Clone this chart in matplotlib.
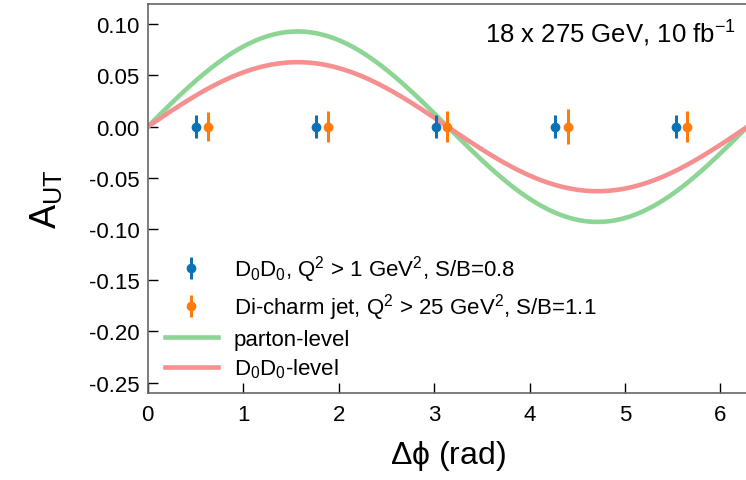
import numpy as np
import matplotlib
matplotlib.use("Agg")
import matplotlib.pyplot as plt

plt.rcParams['font.family'] = ['Liberation Sans', 'DejaVu Sans']
plt.rcParams['mathtext.default'] = 'regular'

# data
dd_x = [0.51, 1.76, 3.02, 4.27, 5.53]
dd_y = [0.0, 0.0, 0.0, 0.0, 0.0]
dd_err = [0.0114, 0.0114, 0.0112, 0.0114, 0.0114]

jet_x = [0.63, 1.89, 3.14, 4.40, 5.65]
jet_y = [0.0, 0.0, 0.0, 0.0, 0.0]
jet_err = [0.0139, 0.0152, 0.0152, 0.0172, 0.0152]

# sin(dphi) modulation amplitudes
amp_parton = 0.093
amp_dd = 0.063

phi = np.linspace(0, 2 * np.pi, 400)

fig = plt.figure(figsize=(7.46, 4.81), dpi=100)
ax = fig.add_axes([0.198, 0.181, 0.804, 0.809])

ax.plot(phi, amp_parton * np.sin(phi), color='#8dd594', lw=3.3, label='parton-level', zorder=2)
ax.plot(phi, amp_dd * np.sin(phi), color='#f58f90', lw=3.3, label=r'D$_0$D$_0$-level', zorder=2)

ax.errorbar(dd_x, dd_y, yerr=dd_err, fmt='o', color='#0b72b5', ms=6, elinewidth=2.2,
            capsize=0, zorder=3, label=r'D$_0$D$_0$, Q$^2$ > 1 GeV$^2$, S/B=0.8')
ax.errorbar(jet_x, jet_y, yerr=jet_err, fmt='o', color='#ff7b0c', ms=6, elinewidth=2.2,
            capsize=0, zorder=3, label=r'Di-charm jet, Q$^2$ > 25 GeV$^2$, S/B=1.1')

ax.set_xlim(0, 2 * np.pi)
ax.set_ylim(-0.26, 0.12)
ax.set_xticks([0, 1, 2, 3, 4, 5, 6])
ax.set_yticks([0.10, 0.05, 0.0, -0.05, -0.10, -0.15, -0.20, -0.25])
ax.set_yticklabels(['0.10', '0.05', '0.00', '-0.05', '-0.10', '-0.15', '-0.20', '-0.25'])
ax.tick_params(direction='in', length=7, width=1, labelsize=16, pad=6)
ax.tick_params(axis='x', pad=8)
for s in ax.spines.values():
    s.set_color('#666666')
    s.set_linewidth(1.2)

ax.set_xlabel(r'$\Delta\phi$ (rad)', fontsize=23, labelpad=9)
ax.set_ylabel(r'A$_{UT}$', fontsize=26, labelpad=18)

ax.text(0.98, 0.965, r'18 x 275 GeV, 10 fb$^{-1}$', transform=ax.transAxes,
        ha='right', va='top', fontsize=18.5)

h, l = ax.get_legend_handles_labels()
order = [2, 3, 0, 1]
ax.legend([h[i] for i in order], [l[i] for i in order], loc='lower left',
          bbox_to_anchor=(-0.005, -0.018), frameon=False, fontsize=16,
          handlelength=2.4, handletextpad=0.7, labelspacing=0.3)

fig.savefig('out.png', dpi=100)
